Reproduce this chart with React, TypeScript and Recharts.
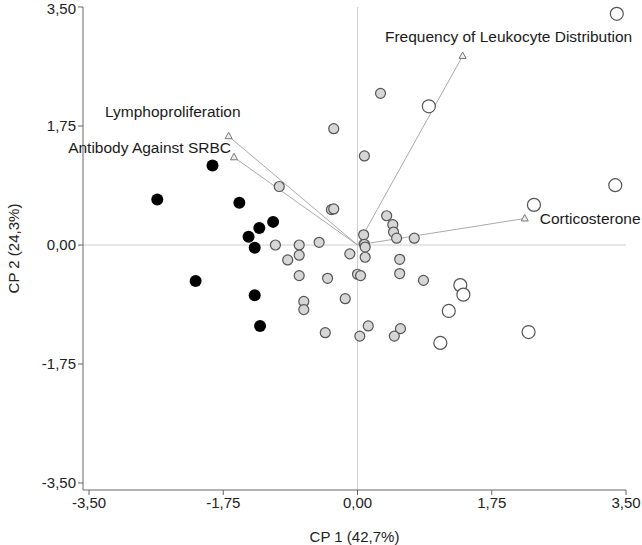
import React from "react";
import {
  ScatterChart,
  Scatter,
  XAxis,
  YAxis,
  ReferenceLine,
} from "recharts";

// PCA scores
const groupA = [
  { x: -2.61, y: 0.67 },
  { x: -1.89, y: 1.17 },
  { x: -1.54, y: 0.62 },
  { x: -1.1, y: 0.34 },
  { x: -1.28, y: 0.25 },
  { x: -1.42, y: 0.12 },
  { x: -1.34, y: -0.04 },
  { x: -2.11, y: -0.53 },
  { x: -1.34, y: -0.74 },
  { x: -1.27, y: -1.19 },
];

const groupB = [
  { x: -1.02, y: 0.86 },
  { x: -0.31, y: 1.71 },
  { x: 0.3, y: 2.23 },
  { x: 0.09, y: 1.31 },
  { x: -0.34, y: 0.52 },
  { x: -0.31, y: 0.53 },
  { x: -0.5, y: 0.04 },
  { x: -1.07, y: 0.0 },
  { x: -0.76, y: 0.0 },
  { x: -0.76, y: -0.15 },
  { x: -0.91, y: -0.22 },
  { x: -0.1, y: -0.13 },
  { x: 0.08, y: 0.15 },
  { x: 0.09, y: 0.01 },
  { x: 0.1, y: -0.03 },
  { x: 0.38, y: 0.43 },
  { x: 0.46, y: 0.3 },
  { x: 0.47, y: 0.19 },
  { x: 0.51, y: 0.1 },
  { x: 0.74, y: 0.1 },
  { x: 0.1, y: -0.18 },
  { x: 0.55, y: -0.21 },
  { x: -0.76, y: -0.45 },
  { x: -0.39, y: -0.49 },
  { x: 0.0, y: -0.43 },
  { x: 0.04, y: -0.45 },
  { x: 0.55, y: -0.42 },
  { x: 0.86, y: -0.52 },
  { x: -0.16, y: -0.79 },
  { x: -0.7, y: -0.83 },
  { x: -0.7, y: -0.95 },
  { x: -0.42, y: -1.29 },
  { x: 0.14, y: -1.19 },
  { x: 0.03, y: -1.34 },
  { x: 0.56, y: -1.23 },
  { x: 0.48, y: -1.34 },
];

const groupC = [
  { x: 3.38, y: 3.4 },
  { x: 0.93, y: 2.04 },
  { x: 2.3, y: 0.59 },
  { x: 3.36, y: 0.88 },
  { x: 1.34, y: -0.59 },
  { x: 1.38, y: -0.73 },
  { x: 1.19, y: -0.97 },
  { x: 2.23, y: -1.28 },
  { x: 1.08, y: -1.44 },
];

const loadingNames = [
  "Frequency of Leukocyte Distribution",
  "Lymphoproliferation",
  "Antibody Against SRBC",
  "Corticosterone",
];
const loadingX = [1.37, -1.68, -1.61, 2.18];
const loadingY = [2.78, 1.6, 1.29, 0.39];

const ticks = [-3.5, -1.75, 0, 1.75, 3.5];

// where each vector label sits relative to its arrow tip
const labelPlacement: Record<string, { dx: number; dy: number; anchor: string }> = {
  "Frequency of Leukocyte Distribution": { dx: 46, dy: -14, anchor: "middle" },
  Lymphoproliferation: { dx: 12, dy: -19, anchor: "end" },
  "Antibody Against SRBC": { dx: -3, dy: -4, anchor: "end" },
  Corticosterone: { dx: 15, dy: 6, anchor: "start" },
};

const fmt = (v: number) => v.toFixed(2).replace(".", ",");
const font = "'Liberation Sans', Arial, sans-serif";

const BlackDot = (p: any) => <circle cx={p.cx} cy={p.cy} r={6} fill="#000" />;
const GrayDot = (p: any) => (
  <circle cx={p.cx} cy={p.cy} r={5} fill="#d6d6d6" stroke="#555" strokeWidth={1.2} />
);
const OpenDot = (p: any) => (
  <circle cx={p.cx} cy={p.cy} r={6.5} fill="#fff" stroke="#555" strokeWidth={1.2} />
);

function VectorTip(name: string) {
  return (p: any) => {
    if (p.payload.x === 0 && p.payload.y === 0) return <g />;
    const pl = labelPlacement[name];
    const { cx, cy } = p;
    return (
      <g>
        <path
          d={`M${cx},${cy - 4} L${cx + 3.5},${cy + 2.5} L${cx - 3.5},${cy + 2.5} Z`}
          fill="#eee"
          stroke="#777"
          strokeWidth={1}
        />
        <text
          x={cx + pl.dx}
          y={cy + pl.dy}
          textAnchor={pl.anchor as any}
          fontSize={15.5}
          fontFamily={font}
          fill="#1a1a1a"
        >
          {name}
        </text>
      </g>
    );
  };
}

export default function App() {
  return (
    <div style={{ position: "absolute", left: 0, top: 0, background: "#fff" }}>
      <ScatterChart
        width={642}
        height={545}
        margin={{ top: 7, right: 16, bottom: 0, left: 28 }}
      >
        <XAxis
          type="number"
          dataKey="x"
          domain={[-3.5, 3.5]}
          ticks={ticks}
          tickFormatter={fmt}
          padding={{ left: 6, right: 0 }}
          height={55}
          stroke="#666"
          tickSize={5}
          tick={{ fill: "#222", fontSize: 15, fontFamily: font }}
          label={{
            value: "CP 1 (42,7%)",
            position: "insideBottom",
            offset: 3,
            fill: "#222",
            fontSize: 15,
            fontFamily: font,
          }}
        />
        <YAxis
          type="number"
          dataKey="y"
          domain={[-3.5, 3.5]}
          ticks={ticks}
          tickFormatter={fmt}
          padding={{ top: 0, bottom: 7 }}
          width={55}
          stroke="#666"
          tickSize={5}
          tick={{ fill: "#222", fontSize: 15, fontFamily: font }}
          label={{
            value: "CP 2 (24,3%)",
            angle: -90,
            position: "insideLeft",
            offset: -14,
            style: { textAnchor: "middle" },
            fill: "#222",
            fontSize: 15,
            fontFamily: font,
          }}
        />
        <ReferenceLine x={0} stroke="#d0d0d0" />
        <ReferenceLine y={0} stroke="#d0d0d0" />
        {loadingNames.map((name, i) => (
          <Scatter
            key={name}
            data={[
              { x: 0, y: 0 },
              { x: loadingX[i], y: loadingY[i] },
            ]}
            line={{ stroke: "#aaa", strokeWidth: 1 }}
            shape={VectorTip(name)}
            isAnimationActive={false}
          />
        ))}
        <Scatter data={groupB} shape={GrayDot} isAnimationActive={false} />
        <Scatter data={groupC} shape={OpenDot} isAnimationActive={false} />
        <Scatter data={groupA} shape={BlackDot} isAnimationActive={false} />
      </ScatterChart>
    </div>
  );
}
